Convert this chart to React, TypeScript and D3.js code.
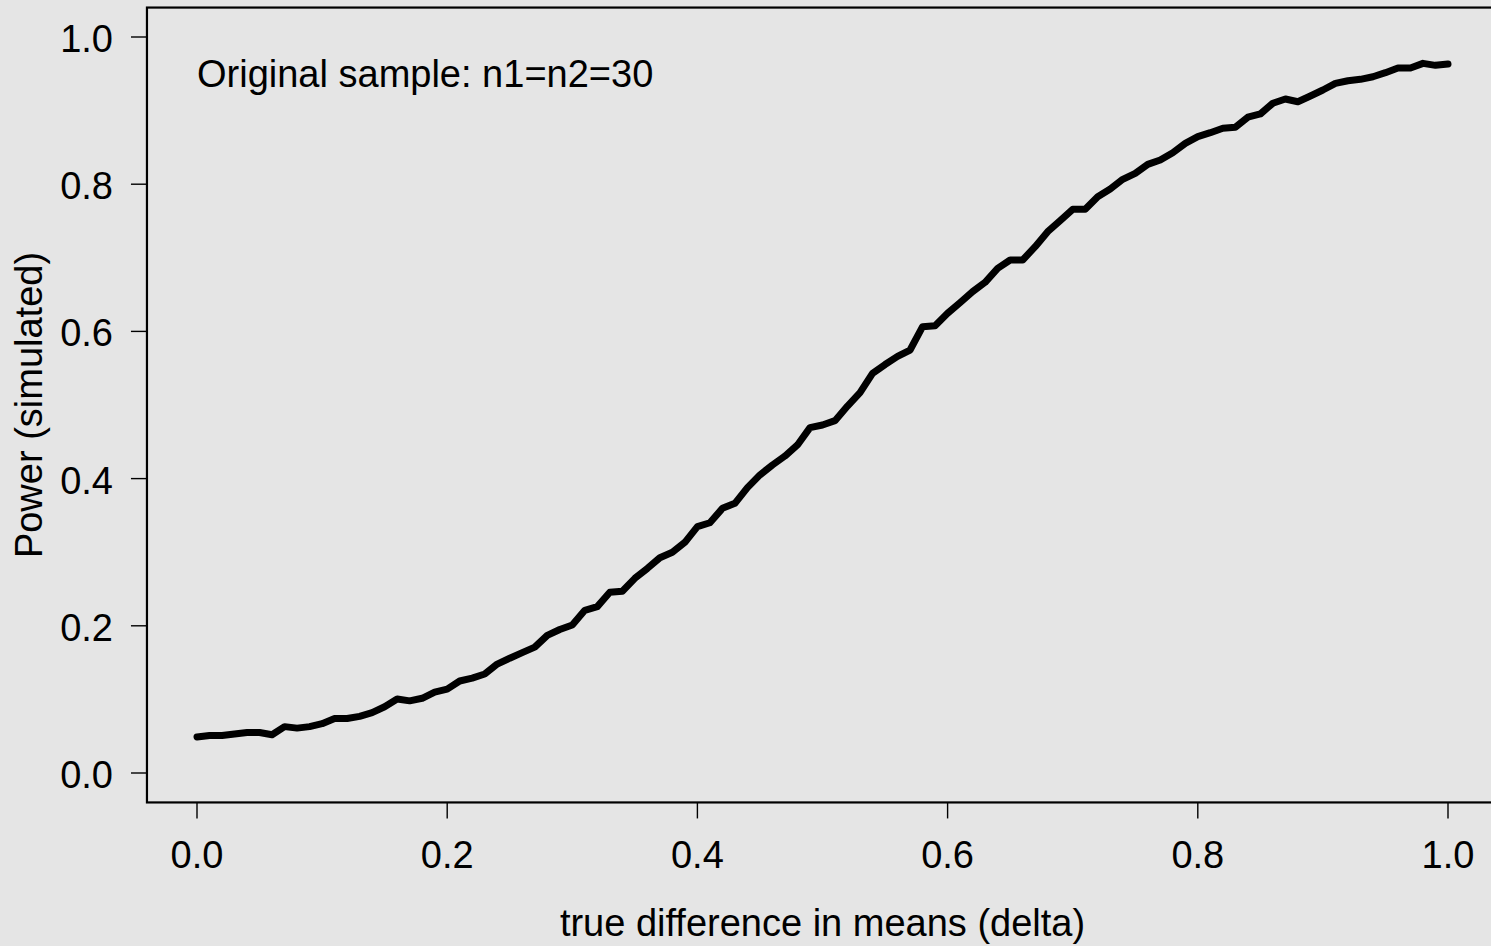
import React from "react";
import * as d3 from "d3";

// true difference in means (delta), 0.00 .. 1.00 step 0.01
const deltas: number[] = Array.from({ length: 101 }, (_, i) => i / 100);

// simulated power
const power: number[] = [
  0.049, 0.051, 0.051, 0.053, 0.055, 0.055, 0.052, 0.063, 0.061, 0.063,
  0.067, 0.074, 0.074, 0.077, 0.082, 0.090, 0.1005, 0.098, 0.1015, 0.110,
  0.114, 0.125, 0.129, 0.1345, 0.148, 0.156, 0.1635, 0.171, 0.187, 0.195,
  0.201, 0.221, 0.226, 0.2455, 0.247, 0.2645, 0.278, 0.2925, 0.300, 0.3134,
  0.3347, 0.340, 0.3596, 0.3664, 0.3877, 0.405, 0.4185, 0.4307, 0.4457, 0.4692,
  0.4728, 0.4787, 0.4986, 0.5167, 0.543, 0.555, 0.566, 0.5747, 0.6064, 0.6078,
  0.6246, 0.639, 0.654, 0.6667, 0.6857, 0.697, 0.697, 0.7151, 0.7355, 0.7504,
  0.7659, 0.7659, 0.783, 0.7935, 0.8066, 0.8148, 0.827, 0.8329, 0.8428, 0.8555,
  0.8646, 0.870, 0.876, 0.8773, 0.891, 0.8954, 0.910, 0.9158, 0.912, 0.9198,
  0.928, 0.937, 0.9406, 0.9425, 0.946, 0.9515, 0.9579, 0.9579, 0.9642, 0.9615,
  0.9633,
];

const xTicks: number[] = [0, 0.2, 0.4, 0.6, 0.8, 1.0];
const yTicks: number[] = [0, 0.2, 0.4, 0.6, 0.8, 1.0];
const xLabel = "true difference in means (delta)";
const yLabel = "Power (simulated)";
const annotation = "Original sample: n1=n2=30";

export default function App() {
  const W = 1491;
  const H = 946;
  const font = "'Liberation Sans', Arial, Helvetica, sans-serif";
  const fs = 38;

  const x = d3.scaleLinear().domain([-0.04, 1.04]).range([146.96, 1498.04]);
  const y = d3.scaleLinear().domain([-0.04, 1.04]).range([802.44, 7.56]);

  const line = d3
    .line<number>()
    .x((_, i) => x(deltas[i]))
    .y((d) => y(d));

  const [x0, x1] = x.range();
  const [y0, y1] = y.range();

  return (
    <svg
      width={W}
      height={H}
      style={{ position: "fixed", left: 0, top: 0, display: "block" }}
      fontFamily={font}
    >
      <rect x={0} y={0} width={W} height={H} fill="#e5e5e5" />
      {/* box */}
      <rect
        x={x0}
        y={y1}
        width={x1 - x0}
        height={y0 - y1}
        fill="none"
        stroke="#000"
        strokeWidth={2.2}
      />
      {/* x axis ticks */}
      {xTicks.map((t) => (
        <g key={"x" + t}>
          <line x1={x(t)} x2={x(t)} y1={y0} y2={y0 + 16} stroke="#000" strokeWidth={1.4} />
          <text x={x(t)} y={868} textAnchor="middle" fontSize={fs} fill="#000">
            {t.toFixed(1)}
          </text>
        </g>
      ))}
      {/* y axis ticks */}
      {yTicks.map((t) => (
        <g key={"y" + t}>
          <line x1={x0} x2={x0 - 16} y1={y(t)} y2={y(t)} stroke="#000" strokeWidth={1.4} />
          <text x={113} y={y(t) + 15} textAnchor="end" fontSize={fs} fill="#000">
            {t.toFixed(1)}
          </text>
        </g>
      ))}
      {/* axis titles */}
      <text x={(x0 + x1) / 2} y={936} textAnchor="middle" fontSize={fs} fill="#000">
        {xLabel}
      </text>
      <text
        transform={`translate(42, ${(y0 + y1) / 2}) rotate(-90)`}
        textAnchor="middle"
        fontSize={fs}
        fill="#000"
      >
        {yLabel}
      </text>
      {/* annotation */}
      <text x={x(0)} y={87} fontSize={fs} fill="#000">
        {annotation}
      </text>
      {/* power curve */}
      <path
        d={line(power) || ""}
        fill="none"
        stroke="#000"
        strokeWidth={7}
        strokeLinejoin="round"
        strokeLinecap="round"
      />
    </svg>
  );
}
